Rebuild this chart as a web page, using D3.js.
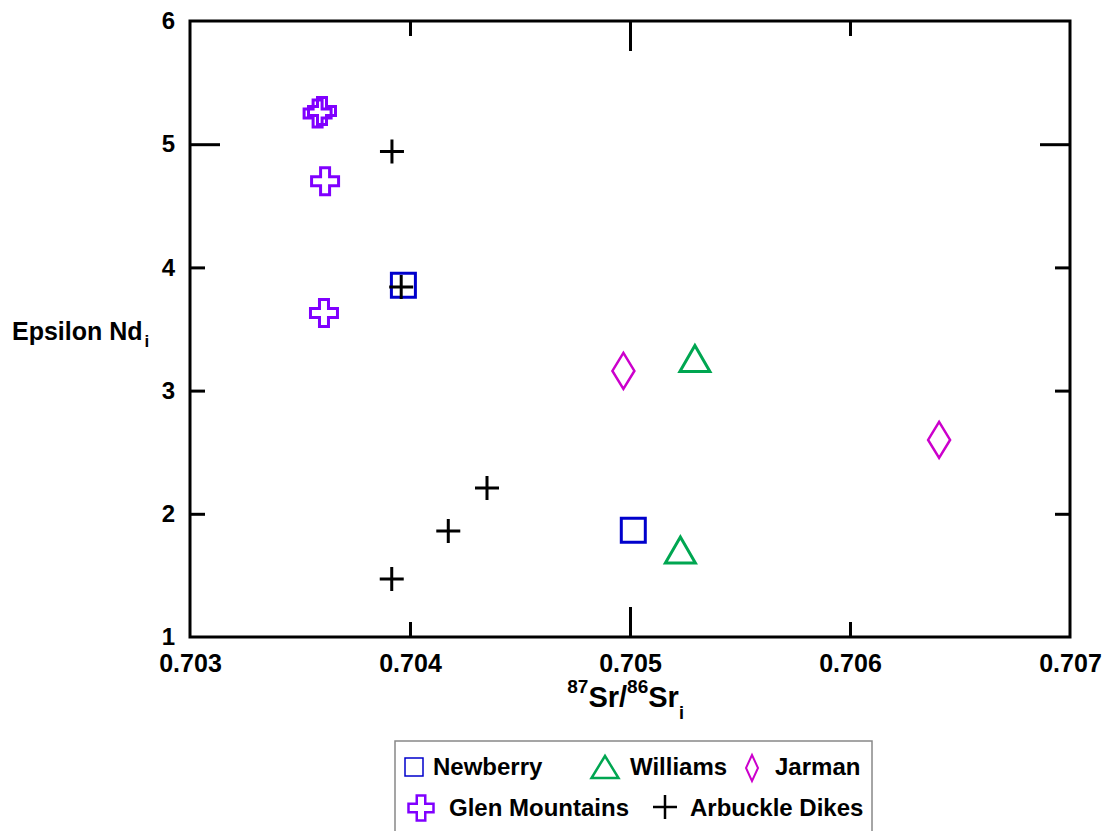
<!DOCTYPE html>
<html>
<head>
<meta charset="utf-8">
<script src="https://cdn.jsdelivr.net/npm/d3@7"></script>
<style>
  html, body { margin: 0; padding: 0; background: #fff; }
  svg { display: block; font-family: Arial, "Liberation Sans", sans-serif; font-weight: bold; }
</style>
</head>
<body>
<svg id="chart" width="1108" height="831"></svg>
<script>
// Isotope data per suite: initial 87Sr/86Sr (x) and initial epsilon Nd (y)
const newberrySr = [0.70397, 0.705015];
const newberryNd = [3.855, 1.867];
const williamsSr = [0.705295, 0.705229];
const williamsNd = [3.26, 1.706];
const jarmanSr = [0.70497, 0.706405];
const jarmanNd = [3.16, 2.60];
const glenSr = [0.70358, 0.70360, 0.703614, 0.703609];
const glenNd = [5.25, 5.27, 4.70, 3.63];
const arbuckleSr = [0.703918, 0.70396, 0.70435, 0.704174, 0.703917];
const arbuckleNd = [4.94, 3.84, 2.21, 1.86, 1.47];

const xTicks = [0.703, 0.704, 0.705, 0.706, 0.707];
const yTicks = [1, 2, 3, 4, 5, 6];
const xMajor = 0.705;
const yMajor = 5;

const svg = d3.select("#chart");
const margin = { left: 190, top: 21, right: 38, bottom: 194 };
const W = 1108 - margin.left - margin.right;
const H = 831 - margin.top - margin.bottom;

const x = d3.scaleLinear().domain([0.703, 0.707]).range([0, W]);
const y = d3.scaleLinear().domain([1, 6]).range([H, 0]);

const g = svg.append("g").attr("transform", `translate(${margin.left},${margin.top})`);

// Inward ticks; the 5 and 0.705 ticks are drawn twice as long
function styleTicks(sel, isMajor, attr, sign, size) {
  sel.select(".domain").remove();
  sel.selectAll(".tick line")
    .attr("stroke", "#000").attr("stroke-width", 3)
    .attr(attr, d => sign * (isMajor(d) ? 30 : 15))
    .attr("display", (d, i, n) => (i === 0 || i === n.length - 1) ? "none" : null);
  sel.selectAll(".tick text").attr("fill", "#000").attr("font-size", size)
    .attr("font-weight", "bold").attr("font-family", "Arial, 'Liberation Sans', sans-serif");
}

const fmtX = d3.format(".3f");

const gxB = g.append("g").attr("transform", `translate(0,${H})`)
  .call(d3.axisBottom(x).tickValues(xTicks).tickFormat(fmtX).tickSize(-15).tickPadding(17));
styleTicks(gxB, d => Math.abs(d - xMajor) < 1e-9, "y2", -1, 25);

const gxT = g.append("g")
  .call(d3.axisTop(x).tickValues(xTicks).tickFormat("").tickSize(-15));
styleTicks(gxT, d => Math.abs(d - xMajor) < 1e-9, "y2", 1, 24);

const gyL = g.append("g")
  .call(d3.axisLeft(y).tickValues(yTicks).tickFormat(d3.format("d")).tickSize(-15).tickPadding(15));
styleTicks(gyL, d => d === yMajor, "x2", 1, 24);

const gyR = g.append("g").attr("transform", `translate(${W},0)`)
  .call(d3.axisRight(y).tickValues(yTicks).tickFormat("").tickSize(-15));
styleTicks(gyR, d => d === yMajor, "x2", -1, 24);

// Frame
g.append("rect").attr("x", 0).attr("y", 0).attr("width", W).attr("height", H)
  .attr("fill", "none").attr("stroke", "#000").attr("stroke-width", 3);

// Marker shapes centred on the origin
const shapes = {
  square: s => `M${-s/2},${-s/2}H${s/2}V${s/2}H${-s/2}Z`,
  triangle: (w, h) => `M0,${-h/2}L${w/2},${h/2}L${-w/2},${h/2}Z`,
  diamond: (w, h) => `M0,${-h/2}L${w/2},0L0,${h/2}L${-w/2},0Z`,
  cross: (s, a) => {
    const o = s / 2, i = a / 2;
    return `M${-i},${-o}H${i}V${-i}H${o}V${i}H${i}V${o}H${-i}V${i}H${-o}V${-i}H${-i}Z`;
  },
  plus: s => `M${-s/2},0H${s/2}M0,${-s/2}V${s/2}`
};

const series = [
  { name: "Glen Mountains", xs: glenSr, ys: glenNd, color: "#8000ff", path: shapes.cross(27, 9), sw: 3,
    legend: { path: shapes.cross(25, 8.5), sw: 2.5 } },
  { name: "Newberry", xs: newberrySr, ys: newberryNd, color: "#0000cc", path: shapes.square(24), sw: 3,
    legend: { path: shapes.square(18), sw: 1.5 } },
  { name: "Arbuckle Dikes", xs: arbuckleSr, ys: arbuckleNd, color: "#000", path: shapes.plus(24), sw: 3,
    legend: { path: shapes.plus(24), sw: 2.5 } },
  { name: "Williams", xs: williamsSr, ys: williamsNd, color: "#00a651", path: shapes.triangle(30, 26), sw: 3,
    legend: { path: shapes.triangle(27, 22), sw: 2.5 } },
  { name: "Jarman", xs: jarmanSr, ys: jarmanNd, color: "#cc00cc", path: shapes.diamond(22, 36), sw: 2.5,
    legend: { path: shapes.diamond(12, 26), sw: 2 } }
];

series.forEach(s => {
  g.append("g").selectAll("path")
    .data(s.xs.map((v, i) => [v, s.ys[i]]))
    .join("path")
    .attr("transform", d => `translate(${x(d[0])},${y(d[1])})`)
    .attr("d", s.path)
    .attr("fill", "none")
    .attr("stroke", s.color)
    .attr("stroke-width", s.sw);
});

// Axis titles
const xt = svg.append("text").attr("x", margin.left + x(0.70498)).attr("y", 707)
  .attr("text-anchor", "middle").attr("fill", "#000");
xt.append("tspan").attr("font-size", 19).attr("dy", -14).text("87");
xt.append("tspan").attr("font-size", 29).attr("dy", 14).text("Sr/");
xt.append("tspan").attr("font-size", 19).attr("dy", -14).text("86");
xt.append("tspan").attr("font-size", 29).attr("dy", 14).text("Sr");
xt.append("tspan").attr("font-size", 18).attr("dy", 12).text("i");

const yt = svg.append("text").attr("x", 12).attr("y", 340).attr("fill", "#000");
yt.append("tspan").attr("font-size", 25).text("Epsilon Nd");
yt.append("tspan").attr("font-size", 17).attr("dy", 7).attr("dx", 2).text("i");

// Legend
const lg = svg.append("g");
lg.append("rect").attr("x", 395).attr("y", 741).attr("width", 477).attr("height", 110)
  .attr("fill", "#fff").attr("stroke", "#888").attr("stroke-width", 1.5);

const legendItems = [
  { key: "Newberry", sx: 414, sy: 767, tx: 433, ty: 775 },
  { key: "Williams", sx: 605, sy: 767, tx: 630, ty: 775 },
  { key: "Jarman", sx: 752, sy: 768, tx: 775, ty: 775 },
  { key: "Glen Mountains", sx: 421, sy: 808, tx: 449, ty: 816 },
  { key: "Arbuckle Dikes", sx: 665, sy: 807, tx: 690, ty: 816 }
];
legendItems.forEach(it => {
  const s = series.find(d => d.name === it.key);
  lg.append("path").attr("transform", `translate(${it.sx},${it.sy})`)
    .attr("d", s.legend.path).attr("fill", "none")
    .attr("stroke", s.color).attr("stroke-width", s.legend.sw);
  lg.append("text").attr("x", it.tx).attr("y", it.ty).attr("font-size", 24)
    .attr("fill", "#000").text(s.name);
});
</script>
</body>
</html>
